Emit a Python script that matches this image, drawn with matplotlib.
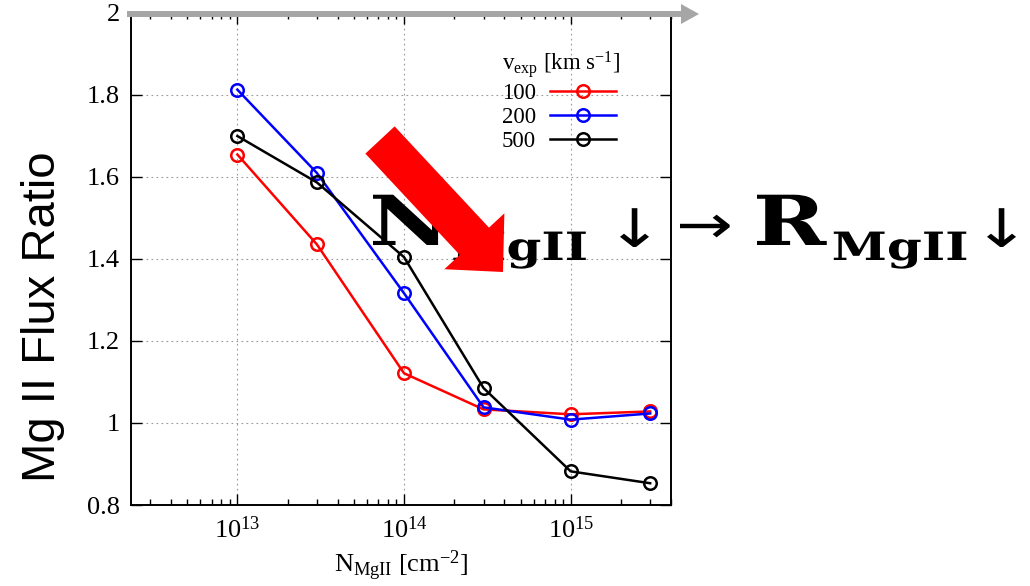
import matplotlib
matplotlib.use("Agg")
import matplotlib.pyplot as plt
from matplotlib.patches import FancyArrow, PathPatch
from matplotlib.transforms import IdentityTransform, Affine2D
from matplotlib.textpath import TextPath
from matplotlib.font_manager import FontProperties
from matplotlib.ticker import FuncFormatter, LogLocator

# colonnes N_MgII (cm^-2) et rapport de flux pour chaque v_exp
n_mgii = [1e13, 3e13, 1e14, 3e14, 1e15, 3e15]
ratio_100 = [1.654, 1.435, 1.121, 1.033, 1.021, 1.028]
ratio_200 = [1.812, 1.609, 1.316, 1.038, 1.008, 1.023]
ratio_500 = [1.699, 1.586, 1.404, 1.085, 0.882, 0.853]
vitesses = ["100", "200", "500"]
couleurs = ["red", "blue", "black"]
y_ticks = [0.8, 1.0, 1.2, 1.4, 1.6, 1.8, 2.0]

plt.rcParams["font.family"] = "Liberation Serif"
plt.rcParams["mathtext.fontset"] = "custom"
plt.rcParams["mathtext.rm"] = "Liberation Serif"
plt.rcParams["mathtext.it"] = "Liberation Serif:italic"
plt.rcParams["mathtext.bf"] = "Liberation Serif:bold"

W, H = 1030, 586
fig = plt.figure(figsize=(W / 100, H / 100), dpi=100)
ax = fig.add_axes([131 / W, 1 - 505 / H, (671 - 131) / W, (505 - 12.5) / H])

for ratio, v, c in zip([ratio_100, ratio_200, ratio_500], vitesses, couleurs):
    ax.plot(n_mgii, ratio, "-o", color=c, lw=1.8, ms=9, mew=1.8,
            mfc="none", label=v)

ax.set_xscale("log")
ax.set_xlim(2.3e12, 4e15)
ax.set_ylim(0.8, 2.0)
ax.set_yticks(y_ticks)
ax.yaxis.set_major_formatter(FuncFormatter(lambda v, p: "%g" % v))
ax.xaxis.set_minor_locator(LogLocator(base=10, subs=range(2, 10), numticks=20))
ax.tick_params(which="both", direction="in", top=True, right=True,
               labelsize=19, width=1, pad=8)
ax.tick_params(which="major", length=8)
ax.tick_params(which="minor", length=4)
ax.grid(True, which="major", color="#999999", lw=0.8, ls=(0, (1.5, 3)))
for s in ax.spines.values():
    s.set_linewidth(1.4)

ax.set_xlabel(r"N$_{\rm MgII}$ [cm$^{-2}$]", fontsize=19, labelpad=4)
fig.text(43 / W, 1 - 317 / H, "Mg II Flux Ratio", rotation=90,
         fontsize=34, family="Liberation Sans", ha="center", va="center")

leg = ax.legend(title=r"v$_{\rm exp}$ [km s$^{-1}$]", frameon=False,
                markerfirst=False, fontsize=16.5, title_fontsize=16.5,
                handlelength=2.9, handletextpad=0.6, labelspacing=0.13,
                borderpad=0, borderaxespad=0, loc="upper left",
                alignment="left", bbox_to_anchor=(502 / W, 1 - 49 / H),
                bbox_transform=fig.transFigure)

# fleche grise le long du bord superieur
fig.patches.append(FancyArrow(127, H - 14, 572, 0, width=6, head_width=20,
                              head_length=18, length_includes_head=True,
                              color="#a6a6a6", lw=0,
                              transform=IdentityTransform(), figure=fig))

# texte N_MgII -> R_MgII, etire horizontalement
ETIRE = 1.28
serif_gras = FontProperties(family="DejaVu Serif", weight="bold")
sans = FontProperties(family="DejaVu Sans")


def texte(s, x, y, taille, fp, cale="baseline"):
    """Trace s en pixels, bord gauche de l'encre a x ; renvoie le bord droit."""
    tp = TextPath((0, 0), s, size=taille, prop=fp)
    ext = tp.get_extents()
    if cale == "bottom":
        dy = -ext.y0
    elif cale == "center":
        dy = -(ext.y0 + ext.y1) / 2
    else:
        dy = 0
    tr = Affine2D().translate(-ext.x0, dy).scale(ETIRE, 1).translate(x, H - y)
    fig.patches.append(PathPatch(tp, transform=tr, color="black", lw=0,
                                 figure=fig))
    return x + ext.width * ETIRE


x_fin = texte("N", 373, 245, 69, serif_gras)
texte("MgII", x_fin + 7, 260, 39, serif_gras)
texte("\u2193", 620, 247, 53, sans, cale="bottom")
texte("\u2192", 680, 226, 53, sans, cale="center")
x_fin = texte("R", 757, 245, 69, serif_gras)
texte("MgII", x_fin + 7, 260, 39, serif_gras)
texte("\u2193", 987, 247, 53, sans, cale="bottom")

# grosse fleche rouge
fig.patches.append(FancyArrow(380, H - 140, 123, -132, width=40,
                              head_width=82, head_length=42,
                              length_includes_head=True, color="red", lw=0,
                              transform=IdentityTransform(), figure=fig,
                              zorder=10))

fig.savefig("out.png", dpi=100)
